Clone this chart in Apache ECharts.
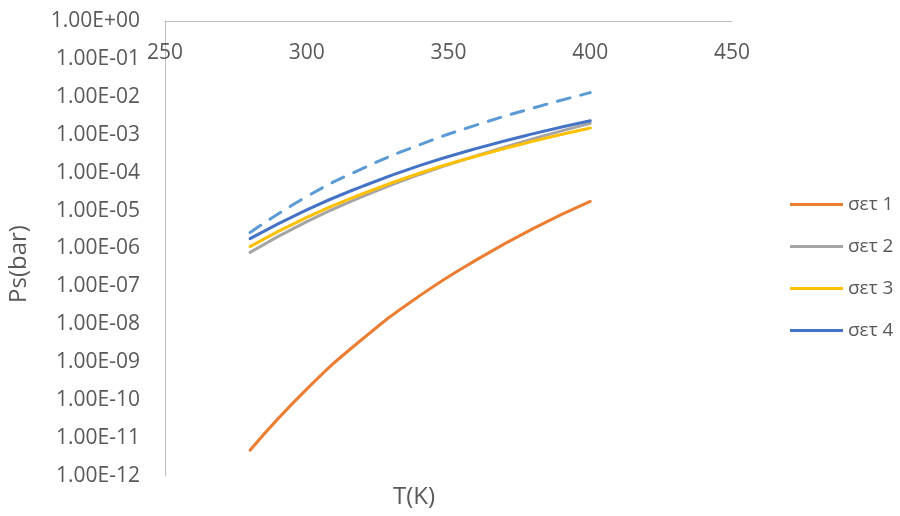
<!DOCTYPE html>
<html>
<head>
<meta charset="utf-8">
<script src="https://cdn.jsdelivr.net/npm/echarts@6/dist/echarts.min.js"></script>
<style>html,body{margin:0;padding:0;background:#fff}#c{width:900px;height:516px}</style>
</head>
<body>
<div id="c"></div>
<script>
var temps = [280, 300, 320, 340, 360, 380, 400];
var set1 = [4.8e-12, 1.95e-10, 4.3e-9, 5.8e-8, 5.1e-7, 3.4e-6, 1.74e-5];
var set2 = [7.9e-7, 5.1e-6, 2.4e-5, 9.1e-5, 2.82e-4, 7.9e-4, 2.0e-3];
var set3 = [1.12e-6, 6.6e-6, 2.82e-5, 9.8e-5, 2.75e-4, 6.8e-4, 1.51e-3];
var set4 = [1.82e-6, 1.05e-5, 4.47e-5, 1.55e-4, 4.37e-4, 1.07e-3, 2.34e-3];
var setDashed = [2.63e-6, 2.34e-5, 1.32e-4, 5.5e-4, 1.82e-3, 5.1e-3, 1.29e-2];
var legendNames = ['σετ 1', 'σετ 2', 'σετ 3', 'σετ 4'];
var xTicks = [250, 300, 350, 400, 450];

function pairs(vals){ return temps.map(function(t,i){ return [t, vals[i]]; }); }
function fmtY(v){
  var e = Math.round(Math.log10(v));
  var a = Math.abs(e);
  return '1.00E' + (e >= 0 ? '+' : '-') + (a < 10 ? '0' + a : '' + a);
}
var FONT = 'Open Sans';
var TXT = '#595959';
function mk(name, vals, color, dashed){
  return {
    name: name, type: 'line', data: pairs(vals), smooth: true,
    showSymbol: false, symbol: 'none',
    lineStyle: { color: color, width: 3, type: dashed ? [13, 11] : 'solid', cap: 'round' },
    itemStyle: { color: color }
  };
}
var chart = echarts.init(document.getElementById('c'));
chart.setOption({
  animation: false,
  backgroundColor: '#fff',
  textStyle: { fontFamily: FONT },
  grid: { left: 165, right: 168, top: 21, bottom: 40, containLabel: false },
  legend: {
    data: legendNames, orient: 'vertical', left: 785, top: 190,
    itemWidth: 53, itemHeight: 3, itemGap: 23, icon: 'rect',
    textStyle: { color: TXT, fontSize: 19, fontFamily: FONT }
  },
  xAxis: {
    type: 'value', position: 'top', min: xTicks[0], max: xTicks[xTicks.length-1], interval: 50,
    axisLine: { show: true, lineStyle: { color: '#bfbfbf', width: 1 } },
    axisTick: { show: false },
    splitLine: { show: false },
    axisLabel: { inside: true, margin: 22, color: TXT, fontSize: 21, fontFamily: FONT }
  },
  yAxis: {
    type: 'log', logBase: 10, min: 1e-12, max: 1, interval: 1,
    axisLine: { show: true, lineStyle: { color: '#bfbfbf', width: 1 } },
    axisTick: { show: false },
    splitLine: { show: false },
    axisLabel: { margin: 25, color: TXT, fontSize: 21, fontFamily: FONT, formatter: fmtY }
  },
  graphic: [
    { type: 'text', x: 414, y: 497,
      style: { text: 'T(K)', fill: TXT, font: '24px "Open Sans"', textAlign: 'center', textVerticalAlign: 'middle' } },
    { type: 'text', x: 19, y: 264, rotation: Math.PI / 2,
      style: { text: 'Ps(bar)', fill: TXT, font: '24px "Open Sans"', textAlign: 'center', textVerticalAlign: 'middle' } }
  ],
  series: [
    mk('dashed', setDashed, '#5B9BD5', true),
    mk(legendNames[0], set1, '#ED7D31'),
    mk(legendNames[1], set2, '#A5A5A5'),
    mk(legendNames[2], set3, '#FFC000'),
    mk(legendNames[3], set4, '#4472C4')
  ]
});
</script>
</body>
</html>
